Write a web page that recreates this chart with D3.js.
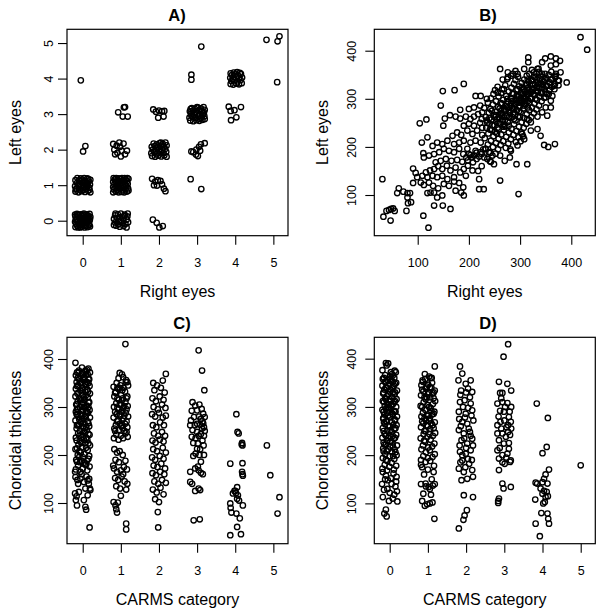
<!DOCTYPE html>
<html><head><meta charset="utf-8">
<script src="https://cdn.jsdelivr.net/npm/d3@7"></script>
<style>
body{margin:0;background:#fff}
svg text{font-family:"Liberation Sans",Arial,Helvetica,sans-serif;fill:#000}
</style>
</head><body>
<svg id="chart" width="604" height="616"></svg>
<script>
// ---------- DATA ----------
const titles = ["A)", "B)", "C)", "D)"];
const xLabels = ["Right eyes", "Right eyes", "CARMS category", "CARMS category"];
const yLabels = ["Left eyes", "Left eyes", "Choroidal thickness", "Choroidal thickness"];
const categoryTicks = [0, 1, 2, 3, 4, 5];
const thicknessTicks = [100, 200, 300, 400];

// Panel A: CARMS category (jittered) [right eye, left eye]
const carmsRightLeft = [
[-.19,-.18],[-.12,-.19],[-.04,-.17],[.05,-.19],[.13,-.18],[.19,-.16],[-.17,-.1],[-.09,-.12],[0,-.09],[.08,-.11],[.16,-.08],
[-.2,-.03],[-.13,-.02],[-.05,-.04],[.03,-.02],[.11,-.04],[.18,0],[-.16,.05],[-.08,.04],[.01,.06],[.09,.03],[.15,.07],
[-.19,.12],[-.11,.11],[-.02,.13],[.06,.1],[.14,.14],[.2,.11],[-.15,.19],[-.06,.18],[.03,.2],[.1,.18],[.18,.19],
[-.2,.17],[-.14,-.14],[.07,-.15],[-.07,.08],[.12,0],[-.01,-.13],[.17,-.12],[-.18,.02],[.04,.15],[-.1,-.07],[.09,.07],
[-.03,.02],[.15,-.02],[-.12,.15],[0,.18],[.19,.05],[-.06,-.19],[.11,.12],
[.85,.15],[.92,.18],[1,.2],[1.1,.17],[1.17,.12],[.82,.05],[.9,.08],[.98,.1],[1.06,.06],[1.15,.03],[.85,-.05],[.95,-.02],
[1.03,-.06],[1.12,-.09],[1.19,-.04],[.88,-.14],[.97,-.17],[1.07,-.15],[1.15,-.19],[.82,-.12],[1,0],[1.18,.2],[.93,-.1],[1.09,.13],[.86,.2],
[1.84,.03],[1.94,-.06],[2.01,-.19],[2.1,-.15],
[-.19,.82],[-.11,.8],[-.03,.83],[.06,.81],[.14,.84],[.2,.8],[-.16,.9],[-.08,.88],[.01,.91],[.09,.89],[.17,.93],
[-.2,.97],[-.12,.99],[-.04,.96],[.04,1],[.12,.98],[.19,1.02],[-.15,1.06],[-.07,1.05],[.02,1.08],[.1,1.06],[.16,1.1],
[-.19,1.14],[-.1,1.13],[-.01,1.15],[.07,1.12],[.15,1.17],[-.14,1.2],[-.05,1.19],[.04,1.2],[.12,1.19],[.2,1.15],
[-.18,.88],[0,.86],[-.1,1.02],[.08,.95],[-.06,1.12],[.18,.87],[.13,1.03],
[.8,.8],[.87,.82],[.94,.8],[1.02,.81],[1.09,.8],[1.16,.82],[1.2,.85],[.82,.88],[.9,.87],[.97,.89],[1.05,.86],[1.12,.88],[1.19,.91],
[.8,.95],[.86,.94],[.93,.96],[1,.93],[1.08,.95],[1.15,.97],[.83,1.02],[.9,1.01],[.97,1.03],[1.04,1],[1.11,1.02],[1.18,1.04],
[.8,1.09],[.88,1.08],[.95,1.1],[1.02,1.07],[1.09,1.09],[1.16,1.11],[.84,1.16],[.91,1.15],[.99,1.17],[1.06,1.14],[1.13,1.16],[1.2,1.18],
[.81,1.2],[.88,1.2],[.95,1.19],[1.03,1.2],[1.1,1.2],[1.17,1.2],[1,.99],[.93,1.12],
[1.82,1.18],[1.9,1.1],[1.97,1.14],[2.04,1.12],[1.87,1],[1.95,.99],[2.08,1.02],[2.13,.9],[2.17,.83],
[2.83,1.17],[3.11,.89],
[.07,2.1],[.01,1.95],
[.8,2.16],[.96,2.2],[1.07,2.17],[.83,2],[.91,1.91],[1.02,1.97],[1.16,1.97],[.85,1.87],[1,1.81],[.98,2.08],[.89,2.11],[1.11,1.87],
[1.82,1.82],[1.9,1.8],[1.98,1.83],[2.06,1.81],[2.14,1.84],[2.2,1.8],[1.8,1.9],[1.88,1.92],[1.96,1.89],[2.04,1.93],[2.12,1.9],[2.19,1.94],
[1.84,2],[1.92,1.98],[2,2.01],[2.08,1.99],[2.16,2.02],[1.81,2.08],[1.89,2.1],[1.97,2.07],[2.05,2.11],[2.13,2.09],[2.2,2.12],
[1.86,2.17],[1.94,2.15],[2.02,2.18],[2.1,2.16],[2.17,2.2],[2.05,2.2],[1.93,2.06],
[2.85,1.95],[2.9,1.93],[2.98,2],[3.05,2.08],[2.97,1.86],[3.02,1.82],[3.1,2.15],[3.2,2.18],[3.08,1.97],
[.93,3.05],[1.08,3.19],[1.11,3.2],[1.05,2.93],[1.18,2.93],
[1.85,3.13],[1.92,3.07],[2,3.1],[2.08,3.08],[2.14,3.09],[1.98,2.9],[2.12,2.93],
[2.82,2.82],[2.9,2.8],[2.98,2.83],[3.06,2.81],[3.14,2.84],[3.2,2.86],[2.8,2.9],[2.88,2.92],[2.96,2.89],[3.04,2.93],[3.12,2.9],[3.19,2.94],
[2.84,3],[2.92,2.98],[3,3.01],[3.08,2.99],[3.16,3.02],[2.81,3.08],[2.89,3.1],[2.97,3.07],[3.05,3.11],[3.13,3.09],[3.2,3.12],
[2.86,3.17],[2.94,3.15],[3.02,3.18],[3.1,3.16],[3.17,3.2],[2.83,3.14],[3,3.2],[2.93,3.03],[3.07,2.86],[3.18,3.05],[2.85,2.96],
[3.83,3.21],[3.88,3.09],[3.98,3.11],[4.15,3.2],[4.03,2.91],[3.89,2.83],
[-.05,3.95],[2.85,4.11],[2.85,3.97],
[3.88,3.85],[3.95,3.83],[4.03,3.86],[4.1,3.84],[4.17,3.87],[3.9,3.93],[3.98,3.95],[4.06,3.92],[4.14,3.96],
[3.87,4.02],[3.94,4],[4.02,4.04],[4.1,4.01],[4.18,4.03],[3.91,4.1],[3.99,4.12],[4.07,4.09],[4.15,4.13],
[3.96,4.17],[4.05,4.18],[4.12,4.16],[3.88,4.15],
[3.11,4.9],[4.82,5.09],[5.11,5.05],[5.16,5.19],[5.1,3.9]
];

// Panel B: choroidal thickness [right eye, left eye]
const thicknessRightLeft = [
[31,133],[33,55],[47,47],[44,69],[48,71],[39,67],[55,67],[52,72],[78,67],[63,114],[60,104],[72,107],[80,104],[85,104],[87,85],[81,83],
[80,95],[111,57],[121,32],[91,155],[96,146],[99,137],[109,140],[116,147],[124,151],[132,154],[91,125],[106,126],[112,121],[122,126],
[130,119],[140,114],[125,105],[119,104],[132,105],[138,95],[148,99],[132,78],[149,78],[164,71],[117,257],[104,249],[119,220],[108,209],
[111,187],[112,178],[122,182],[132,185],[129,202],[138,209],[142,189],[135,168],[145,171],[140,160],[148,154],[119,137],[129,140],
[138,137],[148,140],[151,123],[161,119],[145,286],[149,316],[172,318],[190,331],[153,259],[150,244],
[163,266],[174,263],[183,259],[194,263],[203,258],[210,263],[218,268],[226,272],[183,277],[200,279],[210,282],[222,286],[213,306],
[223,306],[190,244],[200,248],[210,244],[222,250],[148,206],[158,213],[168,223],[177,230],[185,225],[197,234],[207,227],[216,234],
[226,225],[171,206],[181,209],[190,213],[203,209],[213,213],[223,209],[151,196],[161,192],[171,189],[181,196],[189,185],[197,196],
[203,183],[213,192],[223,189],[155,175],[166,171],[177,173],[187,169],[157,161],[164,151],[174,157],[183,147],[190,154],[198,161],
[207,151],[158,133],[171,137],[194,140],[220,133],[171,128],[181,125],[189,116],[185,105],[190,99],[174,109],[220,112],[229,112],
[215,175],[208,168],[225,160],[218,150],[195,178],[200,185],[205,178],[210,182],[215,188],[220,180],[225,185],[230,178],[198,172],[228,195],
[232,196],[231,218],[234,240],[233,262],[230,281],[235,300],[237,205],[238,228],[236,250],[239,271],[237,292],
[242,188],[243,213],[241,236],[244,257],[242,279],[243,301],[241,170],[247,200],[248,222],[246,245],[249,266],[247,288],[248,310],
[252,186],[253,208],[251,231],[254,252],[252,273],[253,295],[251,318],[257,195],[258,217],[256,240],[259,262],[257,283],[258,305],[256,325],
[262,204],[263,226],[261,248],[264,270],[262,291],[263,312],[261,182],[267,212],[268,235],[266,256],[269,278],[267,298],[268,320],[266,340],
[272,198],[273,221],[271,243],[274,264],[272,285],[273,306],[271,328],[277,207],[278,230],[276,252],[279,273],[277,294],[278,315],[276,345],
[282,216],[283,238],[281,260],[284,281],[282,302],[283,323],[281,195],[287,225],[288,247],[286,268],[289,289],[287,310],[288,331],[286,352],
[292,210],[293,233],[291,255],[294,276],[292,297],[293,318],[291,339],[297,220],[298,242],[296,263],[299,284],[297,305],[298,326],[296,346],
[302,230],[303,251],[301,272],[304,292],[302,312],[303,333],[301,212],[307,240],[308,260],[306,280],[309,300],[307,320],[308,340],[306,222],
[312,248],[313,268],[311,288],[314,308],[312,328],[313,348],[317,256],[318,276],[316,296],[319,315],[317,335],[318,352],
[322,262],[323,282],[321,302],[324,321],[322,340],[323,360],[327,270],[328,290],[326,310],[329,328],[327,346],
[332,278],[333,298],[331,316],[334,334],[332,352],[337,286],[338,305],[336,323],[339,340],[337,356],
[342,295],[343,312],[341,330],[344,346],[347,302],[348,320],[346,336],[349,352],[352,310],[353,327],[351,343],
[357,318],[358,334],[356,350],[362,325],[363,340],[361,356],[368,330],[369,345],[367,320],[374,338],[375,328],
[255,258],[265,265],[275,282],[285,295],[295,300],[305,310],[315,322],[325,330],[260,280],[280,270],[300,285],[320,300],[290,268],[310,295],
[270,255],[250,245],[240,260],[285,310],[305,325],[330,345],[345,330],[335,315],[315,340],[295,320],[275,300],[265,290],[245,275],[235,255],
[418,428],[431,402],[391,334],[360,388],[370,384],[378,379],[370,372],[349,384],[316,386],[316,376],[261,362],[276,355],[291,358],[336,363],
[343,324],[350,313],[350,282],[360,296],[321,234],[304,227],[334,263],[314,258],[347,204],[355,200],[368,206],[314,164],[293,164],[261,130],
[297,102],[270,171],[280,178],[249,164],[243,169],[236,175],[246,182],[239,189],[233,196],
[343,376],[360,369],[369,348],[376,338],[379,355],[366,327],[356,310],[363,306],[350,303],[275,341],[265,320],[256,313],[282,348],[295,352],
[308,362],[327,355],[334,362],[308,216],[295,203],[282,192],[321,251],[334,237],[343,272],[353,265],[360,282],[340,223],
[262,268],[272,276],[282,286],[292,290],[302,298],[312,304],[322,314],[332,325],[287,280],[297,292],[307,302],[317,310],[278,262],[268,248],
[258,250],[268,262],[278,276],[288,284],[298,296],[308,306],[318,318],[328,322],[338,332],[348,340],[253,266],[263,276],[273,290],[283,300],
[293,306],[303,318],[313,330],[323,338],[333,340],[343,352],[258,236],[268,242],[278,244],[288,258],[298,274],[308,286],[318,292],[328,308],
[245,235],[255,228],[285,262],[300,262],[315,282],[330,300],[340,312],[350,326],[360,340],[370,352],[240,248],[250,262],[226,240],[225,258]
];

// Panel C: [CARMS category (jittered), choroidal thickness]
const carmsThicknessC = [
[-.18,170],[-.17,190],[-.19,212],[-.18,236],[-.16,255],[-.19,272],[-.18,290],[-.17,305],[-.19,322],[-.18,338],[-.16,352],[-.18,366],
[-.12,178],[-.13,200],[-.11,222],[-.12,245],[-.13,262],[-.11,280],[-.12,296],[-.13,312],[-.11,330],[-.12,345],[-.13,360],[-.11,372],
[-.06,165],[-.07,185],[-.05,205],[-.06,228],[-.07,250],[-.05,268],[-.06,285],[-.07,300],[-.05,316],[-.06,334],[-.07,350],[-.05,364],
[0,172],[.01,195],[-.01,216],[0,238],[.01,258],[-.01,275],[0,292],[.01,308],[-.01,325],[0,340],[.01,356],[-.01,370],
[.06,180],[.05,202],[.07,225],[.06,246],[.05,265],[.07,282],[.06,298],[.05,315],[.07,332],[.06,348],[.05,362],[.07,374],
[.12,168],[.11,188],[.13,210],[.12,232],[.11,252],[.13,270],[.12,288],[.11,303],[.13,320],[.12,336],[.11,352],[.13,368],
[.18,176],[.17,198],[.19,220],[.18,242],[.17,260],[.19,278],[.18,294],[.17,310],[.19,328],[.18,344],[.17,358],[.19,372],
[-.15,262],[-.14,284],[-.15,306],[-.14,328],[-.03,270],[-.02,292],[-.03,314],[-.02,336],[.09,258],[.08,280],[.09,302],[.08,324],
[.09,346],[.15,266],[.14,288],[.15,310],[.14,332],
[-.09,240],[.03,250],[.15,244],[-.16,230],[-.09,318],[.03,320],[.15,350],[-.16,285],[.09,215],[-.03,225],[-.09,196],[.03,184],
[-.15,344],[-.09,358],[-.03,350],[.03,362],[.09,368],[.15,358],[-.15,296],[-.09,274],[-.03,282],[.03,300],[.09,290],[.15,300],
[-.15,214],[-.09,208],[-.03,242],[.03,232],[.09,236],[.15,224],[-.15,186],[-.03,188],[.09,180],[.15,192],[-.09,262],[.03,276],
[-.19,392],[.07,376],[.11,378],[-.1,376],[-.02,382],[.15,380],[-.15,372],
[-.2,120],[-.16,114],[-.18,106],[-.1,123],[-.15,95],[.07,92],[.09,86],[.03,106],[.13,116],[.2,127],[.19,130],[.16,140],[.03,144],
[-.06,151],[-.19,154],[-.2,165],[.18,49],[.13,147],[.07,130],[-.12,140],[.1,155],[-.03,160],[.17,150],[-.14,148],
[.82,235],[.83,255],[.81,278],[.82,300],[.83,322],[.81,342],[.88,242],[.87,262],[.89,285],[.88,308],[.87,330],[.89,350],
[.94,232],[.95,252],[.93,272],[.94,295],[.95,315],[.93,338],[.94,360],[1,240],[1.01,260],[.99,282],[1,304],[1.01,325],[.99,345],
[1.06,235],[1.05,256],[1.07,276],[1.06,298],[1.05,318],[1.07,340],[1.06,362],[1.12,245],[1.11,265],[1.13,288],[1.12,310],[1.11,332],[1.13,352],
[1.18,238],[1.17,258],[1.19,280],[1.18,302],[1.17,322],[1.19,345],[.85,290],[.91,318],[.97,265],[1.03,290],[1.09,250],[1.15,295],
[.9,270],[1.04,335],[1.15,270],[.97,305],
[.85,330],[.91,298],[.97,340],[1.03,314],[1.09,282],[1.15,318],[.85,250],[.91,340],[1.03,262],[1.09,302],[1.15,248],[.97,285],
[1.12,431],[.97,371],[1.03,368],[1.14,356],[1.17,352],
[.83,212],[.9,205],[.97,208],[1.05,200],[.86,190],[.95,185],[1.12,188],[.82,172],[.9,165],[1,168],[1.08,175],[1.16,170],[.85,152],
[.93,148],[1.02,155],[1.1,145],[1.17,140],[.88,135],[.98,130],[1.14,128],[1.06,160],[.8,178],
[.81,102],[.86,95],[.88,87],[.9,80],[.92,101],[1.14,57],[1.14,45],[1,115],
[1.85,350],[1.95,345],[2.1,355],[2.18,369],[2.05,340],[1.88,335],[2.15,330],[1.83,318],[1.92,312],[2.02,322],[2.12,315],[1.86,300],
[1.97,295],[2.08,305],[2.17,298],[1.82,285],[1.9,280],[2,288],[2.1,278],[2.18,282],[1.84,262],[1.93,258],[2.03,268],[2.13,262],
[1.87,245],[1.98,240],[2.08,248],[2.16,240],[1.83,230],[1.91,226],[2.02,232],[2.12,228],
[1.85,212],[1.95,208],[2.1,215],[2.18,205],[1.82,195],[1.9,190],[2.02,198],[2.12,192],[1.86,178],[1.96,175],[2.06,182],[2.16,172],
[1.83,162],[1.92,158],[2.03,165],[2.14,160],[1.88,145],[1.98,140],[2.08,148],[2.18,142],[1.84,128],[1.94,122],[2.04,132],[2.12,118],
[1.9,108],[2,102],[1.97,81],[1.98,49],
[3.04,418],[3.13,376],[3.19,335],
[2.88,310],[2.95,303],[3,293],[3.12,296],[3.16,286],[3.2,279],[2.92,279],[2.84,272],[3,265],[3.08,263],[3.16,266],[2.88,252],[3,248],
[3.1,244],[3.18,240],[2.9,225],[3.02,224],[3.14,230],[3,213],[2.96,203],[3.06,200],[3.1,186],[3.02,176],[2.86,292],[2.94,262],
[3.05,280],[3.13,255],[3.2,250],[2.86,238],[2.96,235],[3.08,212],[3.17,220],[2.9,198],[3.18,200],[3.14,270],[3.06,305],[2.82,262],
[3.18,258],[3.1,275],[3.04,240],
[2.82,165],[2.95,172],[3.04,168],[3.1,163],[3.15,160],[2.82,144],[2.87,140],[2.95,125],[3.04,130],[3.08,127],[2.91,64],[3.07,66],
[4.03,285],[4.06,248],[4.09,245],[4.18,225],[4.19,220],[4.17,222],[3.87,182],[4.19,183],[4.18,165],[4.19,160],[4.2,157],[4.05,133],
[3.98,125],[4.02,121],[4.07,116],[3.94,120],[4.05,109],[4.2,95],[3.87,99],[3.88,90],[4.03,78],[4.12,68],[4.05,50],[3.87,33],[4.15,35],
[4,125],[3.9,80],[4.1,105],
[4.83,220],[4.92,158],[5.16,112],[5.11,78]
];

// Panel D: [CARMS category (jittered), choroidal thickness]
const carmsThicknessD = [
[-.19,172],[-.18,194],[-.17,214],[-.19,236],[-.18,256],[-.17,276],[-.19,294],[-.18,312],[-.17,328],[-.19,344],[-.18,358],
[-.13,180],[-.12,202],[-.14,222],[-.13,244],[-.12,264],[-.14,284],[-.13,302],[-.12,318],[-.14,336],[-.13,352],[-.12,366],
[-.07,168],[-.06,188],[-.08,208],[-.07,230],[-.06,250],[-.08,270],[-.07,288],[-.06,306],[-.08,322],[-.07,340],[-.06,356],
[-.01,176],[0,198],[.01,218],[-.01,240],[0,260],[.01,280],[-.01,298],[0,316],[.01,332],[-.01,348],[0,362],
[.05,184],[.06,206],[.07,226],[.05,248],[.06,268],[.07,286],[.05,304],[.06,320],[.07,338],[.05,354],[.06,368],
[.11,170],[.12,192],[.13,212],[.11,234],[.12,254],[.13,274],[.11,292],[.12,310],[.13,326],[.11,344],[.12,360],
[.17,178],[.18,200],[.19,220],[.17,242],[.18,262],[.19,280],[.17,300],[.18,316],[.19,334],[.17,350],[.16,372],
[-.15,268],[-.16,290],[-.15,310],[-.03,260],[-.04,282],[-.03,304],[-.04,326],[.09,262],[.08,284],[.09,306],[.08,330],[.15,290],
[.14,312],[.15,256],[-.1,296],[.02,290],[-.1,316],
[-.1,240],[.02,252],[.14,236],[-.16,226],[-.1,340],[.02,336],[.14,348],[-.04,212],[.09,198],[-.1,190],[.15,206],[-.16,250],
[-.16,330],[-.1,352],[-.04,344],[.02,358],[.08,352],[.14,330],[-.16,208],[-.1,270],[-.04,236],[.02,312],[.08,240],[.14,272],
[-.1,222],[.02,228],[.08,220],[-.04,300],[.14,290],[-.16,276],
[-.1,391],[-.08,386],[-.19,376],[.13,375],[.03,372],[-.04,390],[.08,365],[-.15,360],
[-.18,165],[-.1,158],[.1,162],[.18,155],[-.2,140],[-.05,148],[.05,140],[.15,135],[-.15,128],[0,122],[.12,118],[-.18,113],[.08,110],
[.2,104],[-.06,130],[.17,145],[-.1,87],[-.08,73],[-.14,79],[.03,152],[-.12,150],[.19,125],[-.02,105],
[.82,190],[.83,212],[.81,235],[.82,258],[.83,280],[.81,302],[.82,324],[.83,345],[.88,198],[.87,220],[.89,244],[.88,266],[.87,288],
[.89,310],[.88,332],[.87,352],[.94,186],[.95,206],[.93,228],[.94,250],[.95,272],[.93,294],[.94,316],[.95,338],[.93,358],
[1,194],[1.01,216],[.99,238],[1,260],[1.01,282],[.99,304],[1,326],[1.01,346],[1.06,188],[1.05,210],[1.07,232],[1.06,254],[1.05,276],
[1.07,298],[1.06,320],[1.05,340],[1.07,360],[1.12,196],[1.11,218],[1.13,240],[1.12,262],[1.11,284],[1.13,306],[1.12,328],[1.11,350],
[1.18,202],[1.17,224],[1.19,246],[1.18,268],[1.17,290],[1.19,312],[1.18,334],[.85,300],[.91,276],[.97,320],[1.03,300],[1.09,266],
[1.15,286],[.9,230],[1.04,244],[1.15,318],[.97,262],
[.85,336],[.91,320],[.97,342],[1.03,330],[1.09,340],[1.15,330],[.85,270],[.91,250],[1.03,272],[1.09,292],[1.15,256],[.97,282],
[1.18,384],[.92,368],[1.03,363],[1.1,360],[.86,355],
[.85,175],[1,170],[1.15,165],[.9,160],[1.1,150],[.82,140],[.95,135],[1.05,130],[1.18,140],[.88,120],[1.08,118],[.85,105],[.98,98],
[1.12,102],[.92,95],[1.05,100],[1.17,68],[.94,141],[1.02,134],[1.13,137],[.82,180],[1.16,178],
[1.84,384],[1.9,369],[1.8,355],[1.99,348],[2.12,355],[1.87,334],[2.05,338],[2.16,331],[1.84,310],[1.96,314],[2.12,307],[1.81,290],
[1.99,286],[2.16,293],[1.9,269],[2.03,265],[2.19,272],[1.81,252],[1.94,245],[2.1,248],[1.88,231],[2.03,224],[2.16,234],[1.84,207],
[1.99,203],[2.12,210],[1.9,189],[2.08,182],[1.81,172],[1.94,165],[2.16,169],[2.03,151],[1.88,148],[2.18,155],[1.94,117],[2.18,113],
[2.02,86],[1.96,75],[1.93,66],[1.81,48],
[1.85,325],[2,330],[2.1,320],[1.92,300],[2.05,298],[1.82,275],[1.97,278],[2.14,282],[1.86,260],[2.07,255],[1.95,235],[2.12,240],
[1.83,220],[2,215],[2.18,220],[1.9,200],[2.05,192],[1.85,185],[2.15,190],[1.98,175],
[3.1,430],[2.98,404],[2.86,352],[3.08,348],[3.18,334],[2.95,329],[2.89,329],[2.82,307],[2.95,310],[3.08,308],[3.18,300],[2.89,292],
[2.99,290],[3.12,279],[2.82,262],[2.9,269],[3.06,258],[3.17,269],[2.95,245],[3.1,248],[2.86,231],[2.99,224],[3.12,213],[2.82,210],
[2.95,200],[3.08,203],[3.17,189],[2.86,193],[3.01,182],[3.15,186],[2.86,169],[2.95,141],[2.98,131],[3.17,134],[2.86,110],[2.84,101],
[2.84,105],[2.92,318],[3.02,300],[3.14,290],[2.85,280],[3,272],[3.1,262],[2.92,255],[3.04,238],[3.15,242],[2.88,215],[3.05,195],
[2.95,185],[3.12,225],[2.82,245],[3.18,255],
[3.85,307],[4.14,277],[4.11,217],[4,204],[4.17,170],[4.08,160],[4.04,151],[4,144],[4.13,141],[3.86,141],[3.82,143],[3.95,131],
[4.04,126],[4.11,124],[4.08,113],[3.81,108],[4,120],[4.14,115],[4.02,100],[3.97,80],[4.13,79],[4.15,68],[4.17,58],[3.82,58],
[3.93,32],[4.06,103],
[5,179]
];

// ---------- LAYOUT ----------
const TOP = 29.3, BOTTOM = 235.7;
const panels = [
  {title: titles[0], ox: 0, oy: 0, left: 67, right: 288, xDom: [-0.412, 5.384], yDom: [-0.422, 5.387],
   xTicks: categoryTicks, yTicks: categoryTicks, xLab: xLabels[0], yLab: yLabels[0], data: carmsRightLeft, titleX: 177, yLabOff: 18.7},
  {title: titles[1], ox: 302, oy: 0, left: 72.3, right: 293.3, xDom: [15.2, 446.9], yDom: [15.4, 444.5],
   xTicks: thicknessTicks, yTicks: thicknessTicks, xLab: xLabels[1], yLab: yLabels[1], data: thicknessRightLeft, titleX: 186, yLabOff: 22.3},
  {title: titles[2], ox: 0, oy: 308, left: 67, right: 288, xDom: [-0.412, 5.384], yDom: [15.2, 445.2],
   xTicks: categoryTicks, yTicks: thicknessTicks, xLab: xLabels[2], yLab: yLabels[2], data: carmsThicknessC, titleX: 182, yLabOff: 18.5},
  {title: titles[3], ox: 302, oy: 308, left: 72.3, right: 293.3, xDom: [-0.403, 5.382], yDom: [16.4, 444.3],
   xTicks: categoryTicks, yTicks: thicknessTicks, xLab: xLabels[3], yLab: yLabels[3], data: carmsThicknessD, titleX: 186, yLabOff: 22.3}
];

const svg = d3.select("#chart");
svg.append("rect").attr("width", 604).attr("height", 616).attr("fill", "#fff");
const FONT = "Liberation Sans, Arial, Helvetica, sans-serif";

panels.forEach(p => {
  const g = svg.append("g").attr("transform", `translate(${p.ox},${p.oy})`);
  const x = d3.scaleLinear().domain(p.xDom).range([p.left, p.right]);
  const y = d3.scaleLinear().domain(p.yDom).range([BOTTOM, TOP]);

  g.append("g").selectAll("circle").data(p.data).join("circle")
    .attr("cx", d => x(d[0])).attr("cy", d => y(d[1])).attr("r", 2.7)
    .attr("fill", "none").attr("stroke", "#000").attr("stroke-width", 1.35);

  g.append("rect").attr("x", p.left).attr("y", TOP)
    .attr("width", p.right - p.left).attr("height", BOTTOM - TOP)
    .attr("fill", "none").attr("stroke", "#000").attr("stroke-width", 1.2);

  const xa = g.append("g").attr("transform", `translate(0,${BOTTOM})`)
    .call(d3.axisBottom(x).tickValues(p.xTicks).tickSize(9).tickSizeOuter(0).tickPadding(13.5).tickFormat(d3.format("d")));
  xa.select(".domain").remove();
  xa.attr("font-size", 12.5).attr("font-family", FONT);
  xa.selectAll(".tick line").attr("stroke", "#000").attr("stroke-width", 1.1);
  xa.selectAll(".tick text").attr("fill", "#000");

  const ya = g.append("g").attr("transform", `translate(${p.left},0)`)
    .call(d3.axisLeft(y).tickValues(p.yTicks).tickSize(9).tickSizeOuter(0).tickFormat(d3.format("d")));
  ya.select(".domain").remove();
  ya.attr("font-size", 12.5).attr("font-family", FONT);
  ya.selectAll(".tick line").attr("stroke", "#000").attr("stroke-width", 1.1);
  ya.selectAll(".tick text").attr("fill", "#000")
    .attr("x", 0).attr("dy", "0.35em").attr("text-anchor", "middle")
    .attr("transform", `translate(${-p.yLabOff},0) rotate(-90)`);

  g.append("text").attr("x", p.titleX).attr("y", 21).attr("text-anchor", "middle")
    .attr("font-size", 16.5).attr("font-weight", "bold").attr("font-family", FONT).text(p.title);

  g.append("text").attr("x", (p.left + p.right) / 2).attr("y", 296.5).attr("text-anchor", "middle")
    .attr("font-size", 16).attr("font-family", FONT).text(p.xLab);

  g.append("text").attr("transform", `translate(${p.left - 52},${(TOP + BOTTOM) / 2}) rotate(-90)`)
    .attr("dy", "0.35em").attr("text-anchor", "middle")
    .attr("font-size", 16).attr("font-family", FONT).text(p.yLab);
});
</script>
</body></html>
